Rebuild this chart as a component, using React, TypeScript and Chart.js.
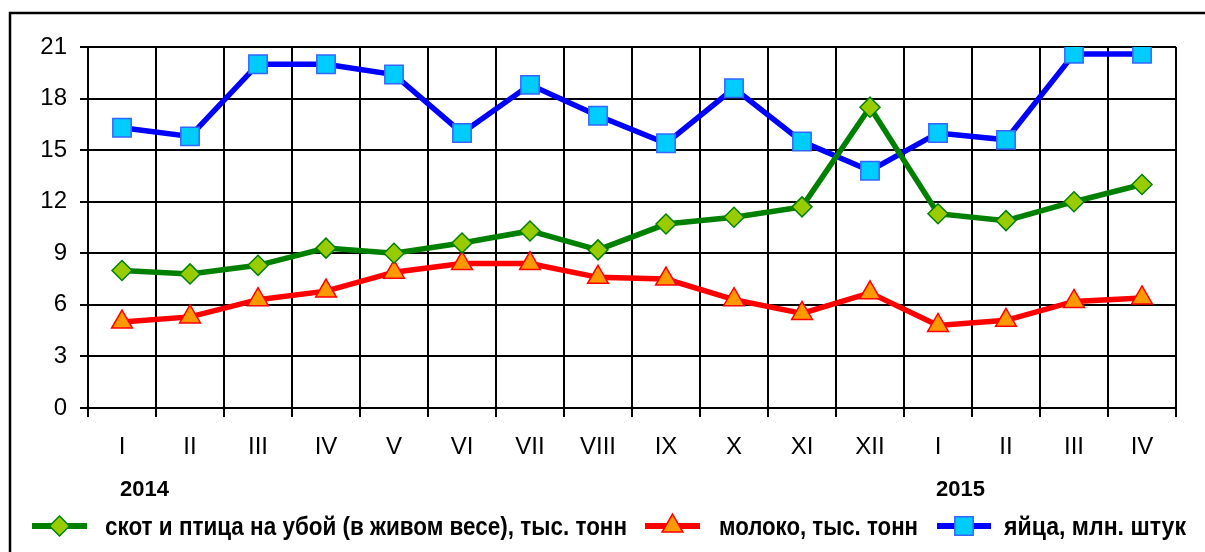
import React, { useEffect, useRef } from "react";
import { Chart, registerables } from "chart.js";

Chart.register(...registerables);

const months = ["I", "II", "III", "IV", "V", "VI", "VII", "VIII", "IX", "X", "XI", "XII", "I", "II", "III", "IV"];
const yearLabels = ["2014", "2015"];
const yearStartIndex = [0, 12];
const livestock = [8.0, 7.8, 8.3, 9.3, 9.0, 9.6, 10.3, 9.2, 10.7, 11.1, 11.7, 17.5, 11.3, 10.9, 12.0, 13.0];
const milk = [5.0, 5.3, 6.3, 6.8, 7.9, 8.4, 8.4, 7.6, 7.5, 6.3, 5.5, 6.7, 4.8, 5.1, 6.2, 6.4];
const eggs = [16.3, 15.8, 20.0, 20.0, 19.4, 16.0, 18.8, 17.0, 15.4, 18.6, 15.5, 13.8, 16.0, 15.6, 20.6, 20.6];
const seriesNames = [
  "скот и птица на убой (в живом весе), тыс. тонн",
  "молоко, тыс. тонн",
  "яйца, млн. штук",
];
const yMin = 0;
const yMax = 21;
const yStep = 3;

const FONT = "'Liberation Sans Narrow', 'Liberation Sans', Arial, sans-serif";
const FONT_WIDE = "'Liberation Sans', Arial, sans-serif";

function drawMarker(ctx: CanvasRenderingContext2D, style: string, x: number, y: number, r: number) {
  ctx.beginPath();
  if (style === "rectRot") {
    ctx.moveTo(x, y - r);
    ctx.lineTo(x + r, y);
    ctx.lineTo(x, y + r);
    ctx.lineTo(x - r, y);
    ctx.closePath();
  } else if (style === "triangle") {
    const w = r * Math.sqrt(3);
    ctx.moveTo(x, y - r);
    ctx.lineTo(x + w / 2, y + r / 2);
    ctx.lineTo(x - w / 2, y + r / 2);
    ctx.closePath();
  } else {
    const s = r * Math.SQRT1_2;
    ctx.rect(x - s, y - s, 2 * s, 2 * s);
  }
  ctx.fill();
  ctx.stroke();
}

const framePlugin = {
  id: "frame",
  beforeDraw(chart: any) {
    const ctx = chart.ctx as CanvasRenderingContext2D;
    ctx.save();
    ctx.fillStyle = "#ffffff";
    ctx.fillRect(0, 0, chart.width, chart.height);
    ctx.strokeStyle = "#000000";
    ctx.lineWidth = 2.5;
    ctx.strokeRect(10, 13, chart.width + 40, chart.height + 40);
    ctx.restore();
  },
};

const extrasPlugin = {
  id: "extras",
  afterDraw(chart: any) {
    const ctx = chart.ctx as CanvasRenderingContext2D;
    const xScale = chart.scales.x;
    ctx.save();
    // Year labels
    ctx.fillStyle = "#000";
    ctx.font = `bold 22px ${FONT_WIDE}`;
    ctx.textBaseline = "alphabetic";
    ctx.textAlign = "left";
    yearLabels.forEach((label, i) => {
      const px = xScale.getPixelForValue(yearStartIndex[i]);
      ctx.fillText(label, px - 2, 496);
    });

    // Legend
    const items = [
      { x0: 32, x1: 87, tx: 105, tw: 522 },
      { x0: 645, x1: 700, tx: 719, tw: 199 },
      { x0: 937, x1: 991, tx: 1004, tw: 182 },
    ];
    const ly = 526;
    chart.data.datasets.forEach((ds: any, i: number) => {
      const it = items[i];
      ctx.strokeStyle = ds.borderColor;
      ctx.lineWidth = 6;
      ctx.beginPath();
      ctx.moveTo(it.x0, ly);
      ctx.lineTo(it.x1, ly);
      ctx.stroke();
      ctx.fillStyle = ds.pointBackgroundColor;
      ctx.strokeStyle = ds.pointBorderColor;
      ctx.lineWidth = 1.5;
      drawMarker(ctx, ds.pointStyle, (it.x0 + it.x1) / 2, ly, ds.pointRadius);
      ctx.fillStyle = "#000";
      ctx.font = `bold 26px ${FONT_WIDE}`;
      const w = ctx.measureText(ds.label).width;
      ctx.save();
      ctx.translate(it.tx, 535);
      ctx.scale(it.tw / w, 1);
      ctx.fillText(ds.label, 0, 0);
      ctx.restore();
    });
    ctx.restore();
  },
};

export default function App() {
  const ref = useRef<HTMLCanvasElement | null>(null);
  useEffect(() => {
    if (!ref.current) return;
    const chart = new Chart(ref.current, {
      type: "line",
      data: {
        labels: months,
        datasets: [
          {
            label: seriesNames[0],
            data: livestock,
            borderColor: "#008000",
            borderWidth: 5.5,
            pointStyle: "rectRot",
            pointRadius: 10,
            pointHoverRadius: 10,
            pointBackgroundColor: "#99CC00",
            pointBorderColor: "#008000",
            pointBorderWidth: 1.5,
            tension: 0,
          },
          {
            label: seriesNames[1],
            data: milk,
            borderColor: "#FF0000",
            borderWidth: 5.5,
            pointStyle: "triangle",
            pointRadius: 12,
            pointHoverRadius: 12,
            pointBackgroundColor: "#FF9900",
            pointBorderColor: "#FF0000",
            pointBorderWidth: 1.5,
            tension: 0,
          },
          {
            label: seriesNames[2],
            data: eggs,
            borderColor: "#0000FF",
            borderWidth: 5.5,
            pointStyle: "rect",
            pointRadius: 13,
            pointHoverRadius: 13,
            pointBackgroundColor: "#00CCFF",
            pointBorderColor: "#3366FF",
            pointBorderWidth: 1.5,
            tension: 0,
          },
        ] as any,
      },
      options: {
        responsive: false,
        animation: false,
        events: [],
        layout: { padding: { left: 0, right: 29, top: 47, bottom: 0 } },
        plugins: {
          legend: { display: false },
          tooltip: { enabled: false },
          title: { display: false },
        },
        scales: {
          x: {
            type: "category",
            offset: true,
            grid: {
              offset: true,
              color: "#000",
              lineWidth: 2,
              tickLength: 9,
              drawTicks: true,
            },
            border: { color: "#000", width: 2 },
            ticks: {
              color: "#000",
              font: { family: FONT, size: 24 },
              padding: 16,
              maxRotation: 0,
              autoSkip: false,
            },
            afterFit: (scale: any) => {
              scale.height = 144;
            },
          },
          y: {
            min: yMin,
            max: yMax,
            grid: {
              color: "#000",
              lineWidth: 2,
              tickLength: 8,
            },
            border: { color: "#000", width: 2 },
            ticks: {
              stepSize: yStep,
              color: "#000",
              font: { family: FONT, size: 24 },
              padding: 13,
            },
            afterFit: (scale: any) => {
              scale.width = 88;
            },
          },
        },
      },
      plugins: [framePlugin, extrasPlugin],
    });
    return () => chart.destroy();
  }, []);
  return (
    <div style={{ position: "absolute", left: 0, top: 0, width: 1205, height: 552 }}>
      <canvas ref={ref} width={1205} height={552} style={{ display: "block" }} />
    </div>
  );
}
